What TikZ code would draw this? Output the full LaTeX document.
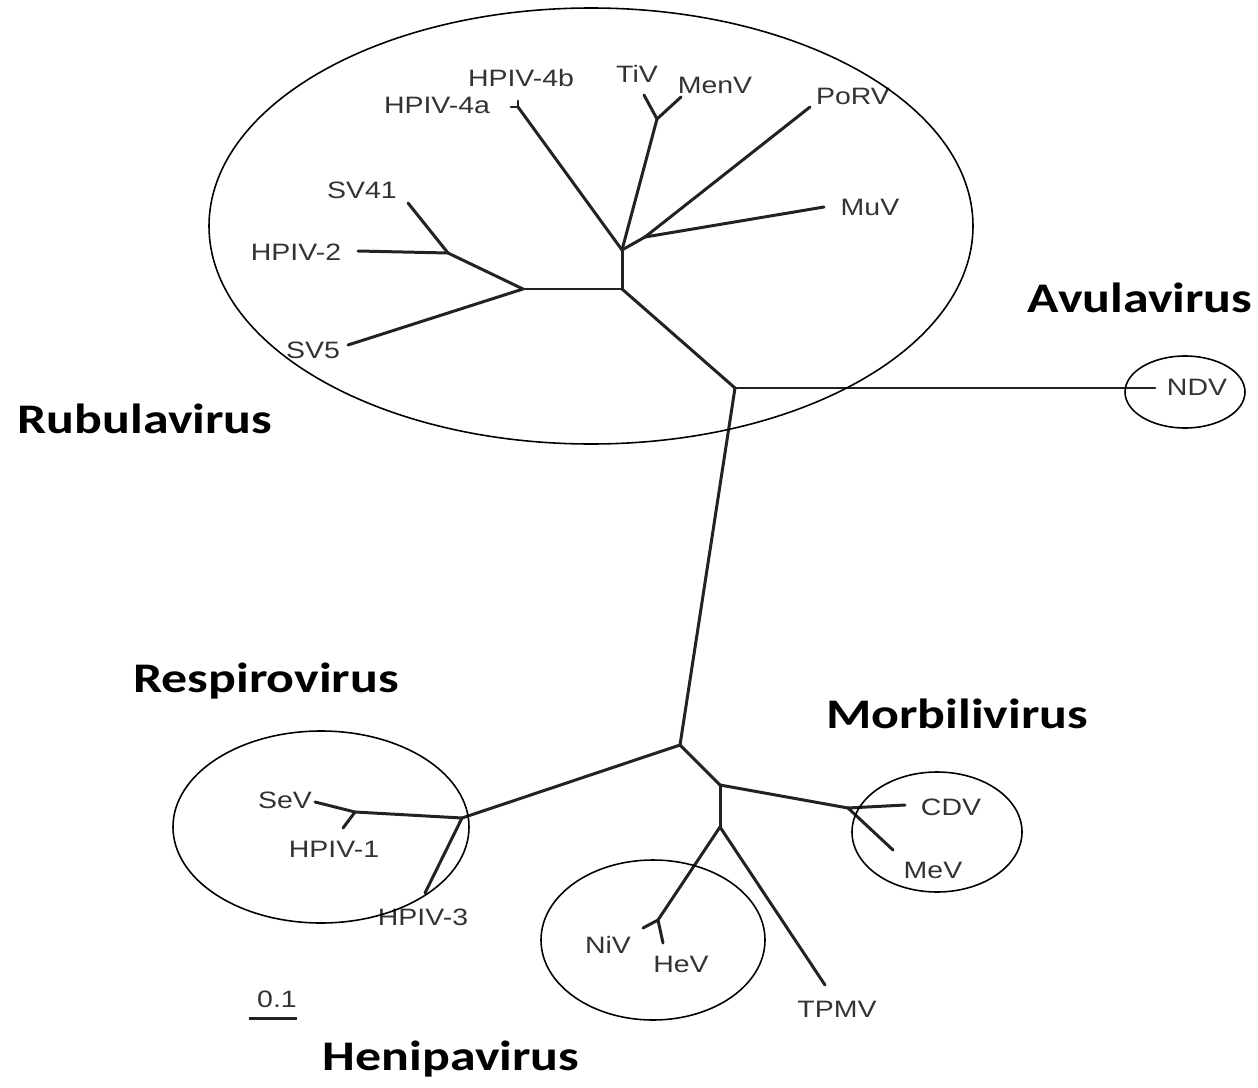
\documentclass[tikz,border=0pt]{standalone}
\usepackage{fontspec}
\setmainfont{Liberation Sans}
\newfontfamily\genusfont{Carlito}
\usepackage{xcolor}
\definecolor{TreeInk}{HTML}{222222}
\definecolor{TaxonInk}{HTML}{333333}
\tikzset{
  branch/.style={draw=TreeInk, line width=1.7pt, line cap=round, line join=round},
  clade/.style={draw=black, line width=0.9pt},
  taxon/.style={anchor=base, inner sep=0pt, text=TaxonInk,
    font=\fontsize{13.5}{15}\selectfont, xscale=1.2, transform shape},
  genus/.style={anchor=base, inner sep=0pt,
    font=\genusfont\bfseries\fontsize{24}{28}\selectfont, xscale=1.23, transform shape},
}

\begin{document}
\begin{tikzpicture}[x=0.02cm, y=-0.02cm]
    \useasboundingbox (0,0) rectangle (1258,1088);
    % internal nodes
    \coordinate (ru) at (622,250); \coordinate (rb) at (622,289);
    \coordinate (rs) at (523,289); \coordinate (r2) at (448,253);
    \coordinate (rt) at (657,119); \coordinate (rm) at (645,237);
    \coordinate (root) at (735,388); \coordinate (lo) at (680,745);
    \coordinate (re) at (462,818); \coordinate (r1) at (355,812);
    \coordinate (pm) at (720,785); \coordinate (hp) at (720,827);
    \coordinate (mo) at (848,808); \coordinate (he) at (658,920);
    % tips
    \coordinate (t4) at (518,107); \coordinate (t4a) at (511,107); \coordinate (t4b) at (518,101);
    \coordinate (tsv41) at (408,203); \coordinate (th2) at (358,251); \coordinate (tsv5) at (348,345);
    \coordinate (ttiv) at (644,95); \coordinate (tmenv) at (681,97);
    \coordinate (tporv) at (810,107); \coordinate (tmuv) at (824,207);
    \coordinate (tndv) at (1155,388);
    \coordinate (tsev) at (315,802); \coordinate (th1) at (343,828); \coordinate (th3) at (425,893);
    \coordinate (tniv) at (643,928); \coordinate (thev) at (663,943); \coordinate (ttpmv) at (825,985);
    \coordinate (tcdv) at (905,805); \coordinate (tmev) at (893,850);

    % branches
    \draw[branch] (root) -- (tndv); \draw[branch] (root) -- (rb); \draw[branch] (root) -- (lo);
    \draw[branch] (rb) -- (rs); \draw[branch] (rb) -- (ru);
    \draw[branch] (rs) -- (tsv5); \draw[branch] (rs) -- (r2);
    \draw[branch] (r2) -- (tsv41); \draw[branch] (r2) -- (th2);
    \draw[branch] (ru) -- (t4); \draw[branch] (t4) -- (t4a); \draw[branch] (t4) -- (t4b);
    \draw[branch] (ru) -- (rt); \draw[branch] (rt) -- (ttiv); \draw[branch] (rt) -- (tmenv);
    \draw[branch] (ru) -- (rm); \draw[branch] (rm) -- (tporv); \draw[branch] (rm) -- (tmuv);
    \draw[branch] (lo) -- (re); \draw[branch] (re) -- (r1); \draw[branch] (re) -- (th3);
    \draw[branch] (r1) -- (tsev); \draw[branch] (r1) -- (th1);
    \draw[branch] (lo) -- (pm); \draw[branch] (pm) -- (mo); \draw[branch] (pm) -- (hp);
    \draw[branch] (mo) -- (tcdv); \draw[branch] (mo) -- (tmev);
    \draw[branch] (hp) -- (he); \draw[branch] (hp) -- (ttpmv);
    \draw[branch] (he) -- (tniv); \draw[branch] (he) -- (thev);

    % taxa
    \node[taxon] (hpiv4b) at (521,87) {HPIV-4b};
    \node[taxon] (hpiv4a) at (437,113) {HPIV-4a};
    \node[taxon] (tiv) at (637,83) {TiV};
    \node[taxon] (menv) at (715,93) {MenV};
    \node[taxon] (porv) at (853,105) {PoRV};
    \node[taxon] (muv) at (870,215) {MuV};
    \node[taxon] (sv41) at (362,198) {SV41};
    \node[taxon] (hpiv2) at (296,260) {HPIV-2};
    \node[taxon] (sv5) at (313,358) {SV5};
    \node[taxon] (ndv) at (1197,395) {NDV};
    \node[taxon] (sev) at (285,808) {SeV};
    \node[taxon] (hpiv1) at (334,857) {HPIV-1};
    \node[taxon] (hpiv3) at (423,925) {HPIV-3};
    \node[taxon] (niv) at (608,953) {NiV};
    \node[taxon] (hev) at (681,972) {HeV};
    \node[taxon] (tpmv) at (837,1017) {TPMV};
    \node[taxon] (cdv) at (951,815) {CDV};
    \node[taxon] (mev) at (933,878) {MeV};

    % scale bar
    \node[taxon] (scale) at (277,1007) {0.1};
    \coordinate (barl) at (249,1018); \coordinate (barr) at (297,1018);
    \draw[branch, line cap=butt] (barl) -- (barr);

    % genus circles
    \draw[clade] (591,226) ellipse [x radius=382, y radius=218];
    \draw[clade] (1185,392) ellipse [x radius=60, y radius=36];
    \draw[clade] (321,827) ellipse [x radius=148, y radius=96];
    \draw[clade] (653,940) ellipse [x radius=112, y radius=80];
    \draw[clade] (937,832) ellipse [x radius=85, y radius=60];

    \node[genus] (rubula) at (145,433) {Rubulavirus};
    \node[genus] (avula) at (1140,312) {Avulavirus};
    \node[genus] (respiro) at (266,692) {Respirovirus};
    \node[genus] (morbili) at (957,728) {Morbilivirus};
    \node[genus] (henipa) at (451,1070) {Henipavirus};
  \end{tikzpicture}
\end{document}
